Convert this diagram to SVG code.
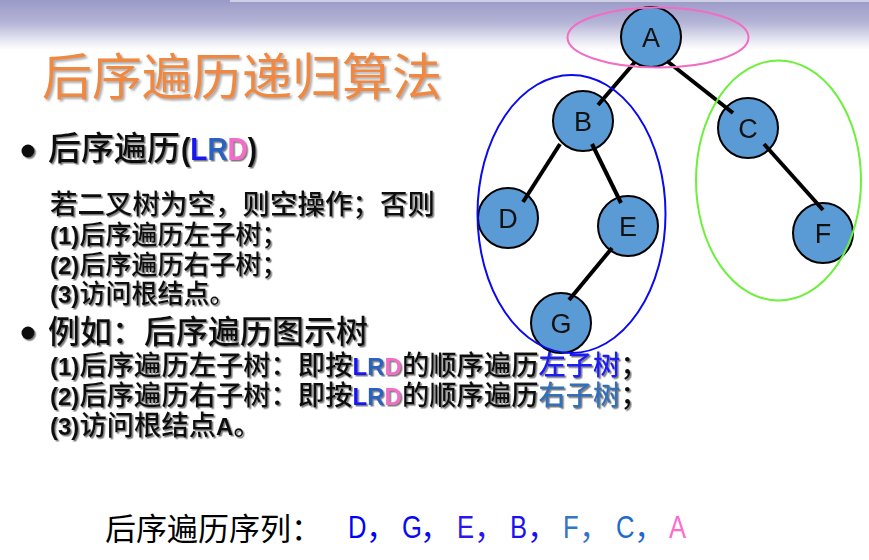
<svg xmlns="http://www.w3.org/2000/svg" width="869" height="560" viewBox="0 0 869 560">
<defs>
<linearGradient id="hdr" x1="0" y1="0" x2="0" y2="1">
<stop offset="0" stop-color="#9a9ac8"/>
<stop offset="0.45" stop-color="#b4b4d6"/>
<stop offset="0.8" stop-color="#e6e6f2"/>
<stop offset="1" stop-color="#ffffff"/>
</linearGradient>
<filter id="sh" x="-5%" y="-20%" width="110%" height="140%">
<feDropShadow dx="1.5" dy="1.5" stdDeviation="0.5" flood-color="#666" flood-opacity="0.85"/>
</filter>
<filter id="tsh" x="-5%" y="-20%" width="110%" height="140%">
<feDropShadow dx="2" dy="2" stdDeviation="1.2" flood-color="#888" flood-opacity="0.7"/>
</filter>
</defs>
<style>
.cjk{font-family:"Noto Sans CJK SC","Noto Sans",sans-serif;fill:#111;font-weight:500}
.lat{font-family:"Liberation Sans",Arial,sans-serif;font-weight:bold;fill:#111}
.l24{font-size:24px}
.cL{fill:#1414f0}.cR{fill:#2a62c2}.cD{fill:#f36cc8}
.node circle{fill:#5b9bd5;stroke:#000;stroke-width:2}
.node text{font-family:"Liberation Sans",Arial,sans-serif;font-size:27px;fill:#111;text-anchor:middle}
.edge{stroke:#000;stroke-width:4;stroke-linecap:butt}
.grp{fill:none;stroke-width:2}
.seq{font-family:"Liberation Sans",Arial,sans-serif;font-size:32px}
.seqc{font-family:"Noto Sans CJK SC",sans-serif;font-size:31px}
</style>
<rect width="869" height="560" fill="#fff"/>
<rect width="869" height="50" fill="url(#hdr)"/>
<rect x="230" y="0" width="639" height="2" fill="#e4e4f0" opacity="0.7"/>

<text x="42" y="95" font-family="'Noto Sans CJK SC',sans-serif" font-size="50" fill="#ef8840" filter="url(#tsh)">后序遍历递归算法</text>

<g filter="url(#sh)">
<circle cx="28" cy="151" r="6.5" fill="#111"/>
<text x="48" y="160" class="cjk" font-size="33">后序遍历</text>
<g transform="translate(181,160) scale(1,1.15)" class="lat" font-size="28">
<text x="0" y="0">(</text><text x="9.3" y="0" class="cL">L</text><text x="26.4" y="0" class="cR">R</text><text x="46.6" y="0" class="cD">D</text><text x="66.8" y="0">)</text>
</g>
<text x="50" y="214" class="cjk" font-size="27.5">若二叉树为空，则空操作；否则</text>
<text x="50" y="244" class="lat l24">(1)</text><text x="79.5" y="244" class="cjk" font-size="26">后序遍历左子树；</text>
<text x="50" y="274" class="lat l24">(2)</text><text x="79.5" y="274" class="cjk" font-size="26">后序遍历右子树；</text>
<text x="50" y="303" class="lat l24">(3)</text><text x="79.5" y="303" class="cjk" font-size="26">访问根结点。</text>

<circle cx="28" cy="333" r="6.5" fill="#111"/>
<text x="48" y="343" class="cjk" font-size="32">例如：后序遍历图示树</text>

<text x="50" y="375" class="lat l24">(1)</text>
<text x="79.5" y="375" class="cjk" font-size="27.3">后序遍历左子树：即按</text>
<text x="352.5" y="375" class="lat l24 cL">L</text><text x="367.2" y="375" class="lat l24 cR">R</text><text x="384.5" y="375" class="lat l24 cD">D</text>
<text x="402" y="375" class="cjk" font-size="27.3">的顺序遍历</text>
<text x="538.5" y="375" class="cjk" font-size="27.3" fill="#1a1af5" style="fill:#1a1af5">左子树</text>
<text x="620.5" y="375" class="cjk" font-size="27.3">；</text>

<text x="50" y="405" class="lat l24">(2)</text>
<text x="79.5" y="405" class="cjk" font-size="27.3">后序遍历右子树：即按</text>
<text x="352.5" y="405" class="lat l24 cL">L</text><text x="367.2" y="405" class="lat l24 cR">R</text><text x="384.5" y="405" class="lat l24 cD">D</text>
<text x="402" y="405" class="cjk" font-size="27.3">的顺序遍历</text>
<text x="538.5" y="405" class="cjk" font-size="27.3" style="fill:#3370b8">右子树</text>
<text x="620.5" y="405" class="cjk" font-size="27.3">；</text>

<text x="50" y="435" class="lat l24">(3)</text>
<text x="79.5" y="435" class="cjk" font-size="27.3">访问根结点</text>
<text x="216" y="435" class="lat l24">A</text>
<text x="233.5" y="435" class="cjk" font-size="27.3">。</text>
</g>

<text x="105" y="540" font-family="'Noto Sans CJK SC',sans-serif" font-size="31" fill="#000">后序遍历序列：</text>
<g>
<text transform="translate(348,538) scale(0.8,1)" class="seq" fill="#0000ff">D</text><text x="366" y="539" class="seqc" fill="#0000ff">，</text>
<text transform="translate(402,538) scale(0.8,1)" class="seq" fill="#0a0af2">G</text><text x="420" y="539" class="seqc" fill="#0a0af2">，</text>
<text transform="translate(457,538) scale(0.8,1)" class="seq" fill="#2b16f0">E</text><text x="474" y="539" class="seqc" fill="#2b16f0">，</text>
<text transform="translate(510,538) scale(0.8,1)" class="seq" fill="#1a10f0">B</text><text x="527" y="539" class="seqc" fill="#1a10f0">，</text>
<text transform="translate(563,538) scale(0.8,1)" class="seq" fill="#3575c5">F</text><text x="579" y="539" class="seqc" fill="#3575c5">，</text>
<text transform="translate(616,538) scale(0.8,1)" class="seq" fill="#1f6bc9">C</text><text x="634" y="539" class="seqc" fill="#1f6bc9">，</text>
<text transform="translate(669,538) scale(0.8,1)" class="seq" fill="#ff6ccc">A</text>
</g>

<g id="node-A" class="node"><circle cx="651" cy="37" r="30"/><text x="651" y="47">A</text></g>
<g id="node-B" class="node"><circle cx="583" cy="121" r="30"/><text x="583" y="131">B</text></g>
<g id="node-C" class="node"><circle cx="748" cy="128" r="30"/><text x="748" y="138">C</text></g>
<g id="node-D" class="node"><circle cx="508" cy="218" r="30"/><text x="508" y="228">D</text></g>
<g id="node-E" class="node"><circle cx="628" cy="226" r="30"/><text x="628" y="236">E</text></g>
<g id="node-F" class="node"><circle cx="823" cy="233" r="30"/><text x="823" y="243">F</text></g>
<g id="node-G" class="node"><circle cx="561" cy="323" r="30"/><text x="561" y="333">G</text></g>

<g id="connectors">
<line class="edge" x1="635" y1="62" x2="598" y2="105"/>
<line class="edge" x1="667" y1="61" x2="733" y2="113"/>
<line class="edge" x1="560" y1="144" x2="523" y2="202"/>
<line class="edge" x1="592" y1="144" x2="621" y2="203" stroke-width="3.5"/>
<line class="edge" x1="612" y1="248" x2="569" y2="300"/>
<line class="edge" x1="764" y1="144" x2="823" y2="210" stroke-width="3"/>
</g>

<g id="groups">
<ellipse class="grp" cx="658" cy="37.5" rx="90.5" ry="30" stroke="#f26cc4"/>
<ellipse class="grp" cx="571.5" cy="214" rx="94" ry="139" stroke="#0a0af0"/>
<ellipse class="grp" cx="778.5" cy="180.5" rx="82.5" ry="120" stroke="#6cf03c"/>
</g>
</svg>
